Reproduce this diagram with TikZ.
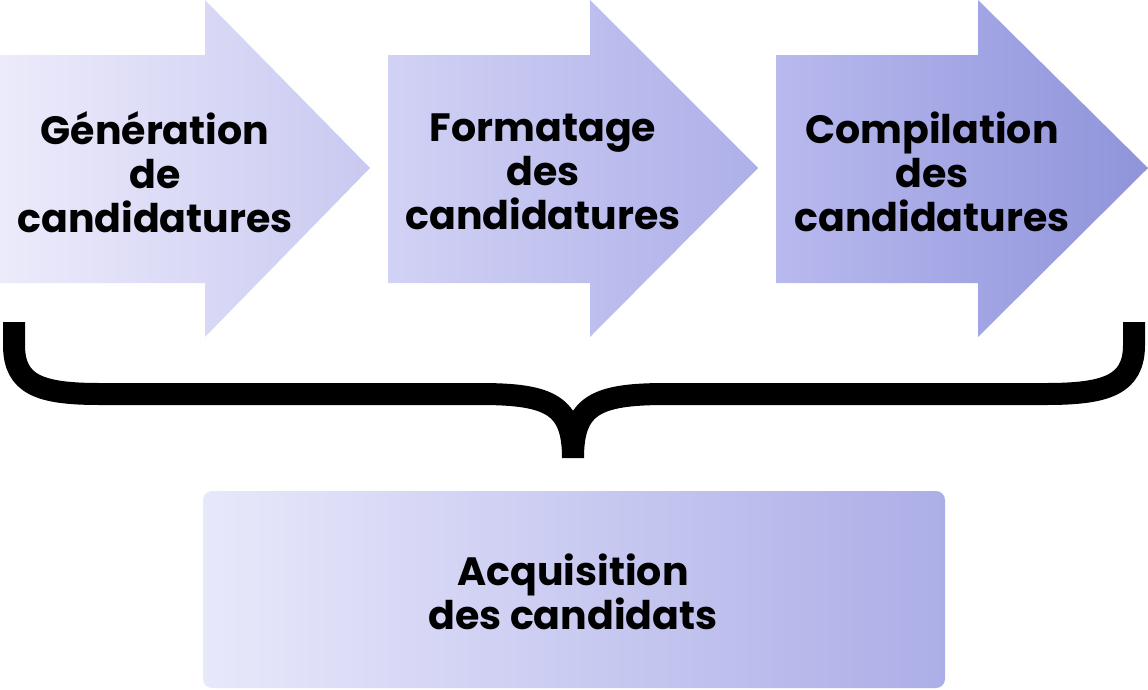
\documentclass[tikz,border=0pt]{standalone}
\usepackage{fontspec}
\setmainfont{Poppins}[BoldFont={Poppins Bold}]
\begin{document}
\begin{tikzpicture}[x=1pt,y=-1pt,
  lbl/.style={font=\bfseries\fontsize{39.5}{44}\selectfont,align=center,text=black}]
\useasboundingbox (0,0) rectangle (1148,689);
\definecolor{a1l}{HTML}{ECEBFB}\definecolor{a1r}{HTML}{C9C9F1}
\definecolor{a2l}{HTML}{D2D2F5}\definecolor{a2r}{HTML}{ADAFE8}
\definecolor{a3l}{HTML}{B8B9EE}\definecolor{a3r}{HTML}{8F94DA}
\definecolor{bl}{HTML}{E8E8FB}\definecolor{br}{HTML}{ACAEE7}
\shade[left color=a1l,right color=a1r] (0,55)--(205,55)--(205,0)--(370,168)--(205,337)--(205,283)--(0,283)--cycle;
\shade[left color=a2l,right color=a2r] (388,55)--(590,55)--(590,0)--(758,168)--(590,337)--(590,283)--(388,283)--cycle;
\shade[left color=a3l,right color=a3r] (776,55)--(978,55)--(978,0)--(1148,168)--(978,337)--(978,283)--(776,283)--cycle;
\node[lbl] (t1) at (155,172) {Génération\\de\\candidatures};
\node[lbl] (t2) at (543,172) {Formatage\\des\\candidatures};
\node[lbl] (t3) at (932,172) {Compilation\\des\\candidatures};
\draw[line width=22pt] (14,322) -- (14,345) .. controls (14,385) and (40,394) .. (100,394) -- (480,394) .. controls (550,394) and (573,405) .. (573,458)
  .. controls (573,405) and (596,394) .. (666,394) -- (1046,394) .. controls (1106,394) and (1134,385) .. (1134,345) -- (1134,322);
\shade[left color=bl,right color=br,rounded corners=9pt] (203,491) rectangle (945,688);
\node[lbl] (t4) at (573,592) {Acquisition\\des candidats};
\end{tikzpicture}
\end{document}
